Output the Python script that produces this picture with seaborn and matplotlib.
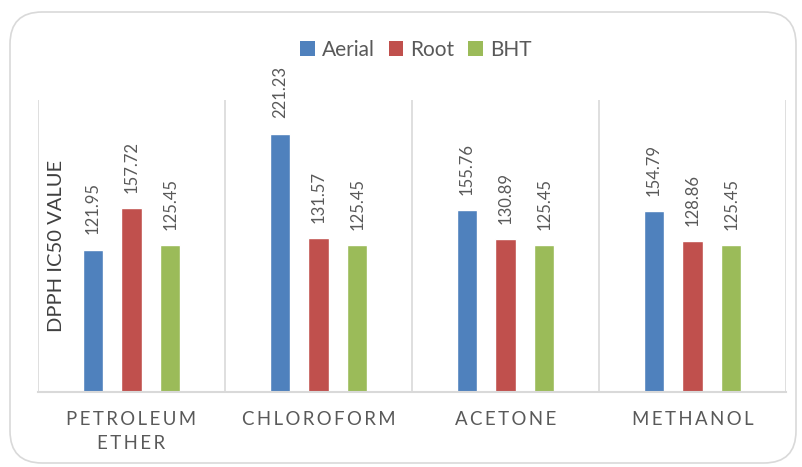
import matplotlib
matplotlib.use("Agg")
import matplotlib.pyplot as plt
from matplotlib.patches import FancyBboxPatch, Patch
import seaborn as sns
import pandas as pd

# DPPH IC50 values by extraction solvent
solvents = ["PETROLEUM\nETHER", "CHLOROFORM", "ACETONE", "METHANOL"]
parts = ["Aerial", "Root", "BHT"]
aerial = [121.95, 221.23, 155.76, 154.79]
root = [157.72, 131.57, 130.89, 128.86]
bht = [125.45, 125.45, 125.45, 125.45]
colors = ["#4F81BD", "#C0504D", "#9BBB59"]

df = pd.DataFrame({
    "solvent": solvents * 3,
    "part": [p for p in parts for _ in solvents],
    "value": aerial + root + bht,
})

sns.set_theme(style="white")
plt.rcParams["font.family"] = ["Lato", "DejaVu Sans"]
text_gray = "#595959"
line_gray = "#D9D9D9"

fig = plt.figure(figsize=(8.03, 4.67), dpi=100)
fig.patch.set_facecolor("white")

# rounded chart frame, kept behind the axes
frame = FancyBboxPatch((10 / 803, 1 - 463 / 467), 786 / 803, 451 / 467,
                       boxstyle="round,pad=0,rounding_size=0.04",
                       transform=fig.transFigure, facecolor="white",
                       edgecolor=line_gray, linewidth=1.2, mutation_aspect=803 / 467,
                       zorder=-5)
fig.patches.append(frame)

ax = fig.add_axes([38 / 803, 1 - 392 / 467, 748 / 803, 292 / 467])
ax.set_facecolor("none")
ax.set_zorder(2)

sns.barplot(data=df, x="solvent", y="value", hue="part", hue_order=parts,
            palette=colors, width=0.62, gap=0.48, legend=False, ax=ax,
            errorbar=None, saturation=1)

for container in ax.containers:
    ax.bar_label(container, fmt="%.2f", rotation=90, padding=11,
                 fontsize=12, color=text_gray)

ax.set_ylim(0, 250)
ax.set_xlim(-0.5, len(solvents) - 0.5)
ax.set_yticks([])
ax.set_xlabel("")
ax.set_ylabel("")
for s in ["top", "right", "left"]:
    ax.spines[s].set_visible(False)
ax.spines["bottom"].set_color(line_gray)
ax.spines["bottom"].set_linewidth(1.5)

# category separators
for xpos in [i - 0.5 for i in range(len(solvents) + 1)]:
    ax.axvline(xpos, color=line_gray, linewidth=1.2, zorder=0)


def spaced(label):
    # letter-spaced caps with thin spaces
    return "\n".join("\u2009".join(line) for line in label.split("\n"))


ax.set_xticks(range(len(solvents)))
ax.set_xticklabels([spaced(s) for s in solvents], fontsize=13.4,
                   color=text_gray, linespacing=1.45)
ax.tick_params(axis="x", length=0, pad=14)

fig.text(57 / 803, 1 - 246 / 467, "DPPH IC50 VALUE", rotation=90,
         ha="center", va="center", fontsize=14.5, color="#404040", zorder=5)

handles = [Patch(facecolor=c, edgecolor="none") for c in colors]
fig.legend(handles, parts, loc="center", bbox_to_anchor=(416 / 803, 1 - 50 / 467),
           ncol=3, frameon=False, fontsize=15, labelcolor=text_gray,
           handlelength=0.7, handleheight=0.7, handletextpad=0.35,
           columnspacing=0.65)

fig.savefig("out.png", dpi=100, facecolor="white")
